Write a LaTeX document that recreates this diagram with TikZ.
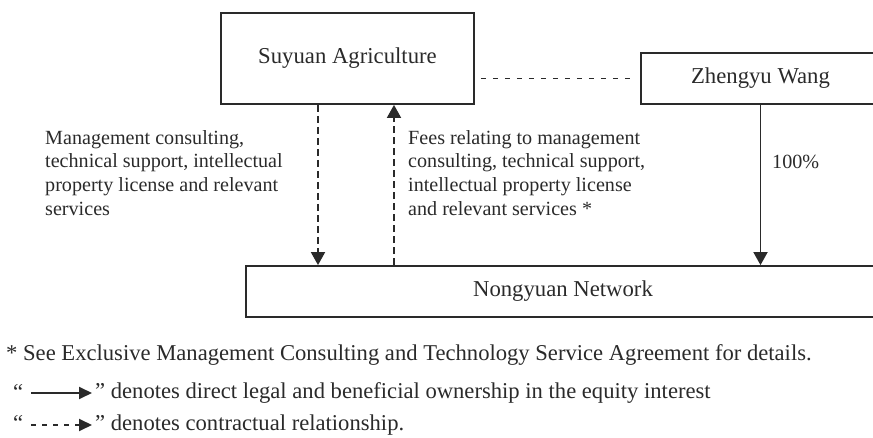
\documentclass[tikz,border=0pt]{standalone}
\usepackage{fontspec}
\setmainfont{Liberation Serif}
\usepackage{xcolor}
\usetikzlibrary{arrows.meta,positioning}
\definecolor{ink}{HTML}{2A2A2A}
\tikzstyle{l2}=[line width=1.8bp, draw=ink]
\tikzstyle{ent}=[rectangle, l2, inner sep=0pt, text=ink, font=\fontsize{22.8}{26}\selectfont]
\tikzstyle{lbl}=[align=left, inner sep=0pt, text=ink, font=\fontsize{20.2}{24}\selectfont]
\tikzstyle{note}=[anchor=west, inner sep=0pt, text=ink, font=\fontsize{22.7}{24}\selectfont]
\tikzstyle{own}=[l2, -{Triangle[width=14bp,length=13bp]}]
\tikzstyle{ctr}=[own, dash pattern=on 7bp off 4bp]
\tikzstyle{key}=[l2, -{Triangle[width=12bp,length=13bp]}, shorten <=8bp, shorten >=3bp]

\begin{document}
\begin{tikzpicture}[x=1bp, y=-1bp]
    \useasboundingbox (0,0) rectangle (873,438);
    \clip (0,0) rectangle (873,438);

    % entities
    \node[ent, minimum width=253bp, minimum height=91bp] at (347.5,58.5) (suy) {Suyuan Agriculture};
    \node[ent, minimum width=239bp, minimum height=51bp] at (760.5,78.5) (zhw) {Zhengyu Wang};
    \node[ent, minimum width=634bp, minimum height=51bp] at (563,291.5) (nyn) {Nongyuan Network};

    \draw[l2, dash pattern=on 5bp off 7bp, shorten <=6bp, shorten >=6bp] (suy.east |- zhw.west) -- (zhw.west);
    \draw[ctr] ([xshift=-29.5bp]suy.south) -- ([xshift=-29.5bp]suy.south |- nyn.north);
    \draw[ctr] ([xshift=46.5bp]suy.south |- nyn.north) -- ([xshift=46.5bp]suy.south);
    \draw[own] (zhw.south) -- (zhw.south |- nyn.north);

    \node[lbl, anchor=west] at (45,173) (svc) {Management consulting,\\technical support, intellectual\\property license and relevant\\services};
    \node[lbl, anchor=west] at (408,173) (fee) {Fees relating to management\\consulting, technical support,\\intellectual property license\\and relevant services *};
    \node[lbl, anchor=west] at (772,162) (pct) {100\%};

    % notes
    \node[note] at (6,355) (fn) {* See Exclusive Management Consulting and Technology Service Agreement for details.};
    \node[note] at (13,392) (q1) {“};
    \node[note] at (95,393) (q2) {” denotes direct legal and beneficial ownership in the equity interest};
    \node[note] at (13,423) (q3) {“};
    \node[note] at (95,425) (q4) {” denotes contractual relationship.};
    \draw[key] (q1.east |- q2.west) -- (q2.west);
    \draw[key, dash pattern=on 5bp off 6bp] (q3.east |- q4.west) -- (q4.west);
\end{tikzpicture}
\end{document}
